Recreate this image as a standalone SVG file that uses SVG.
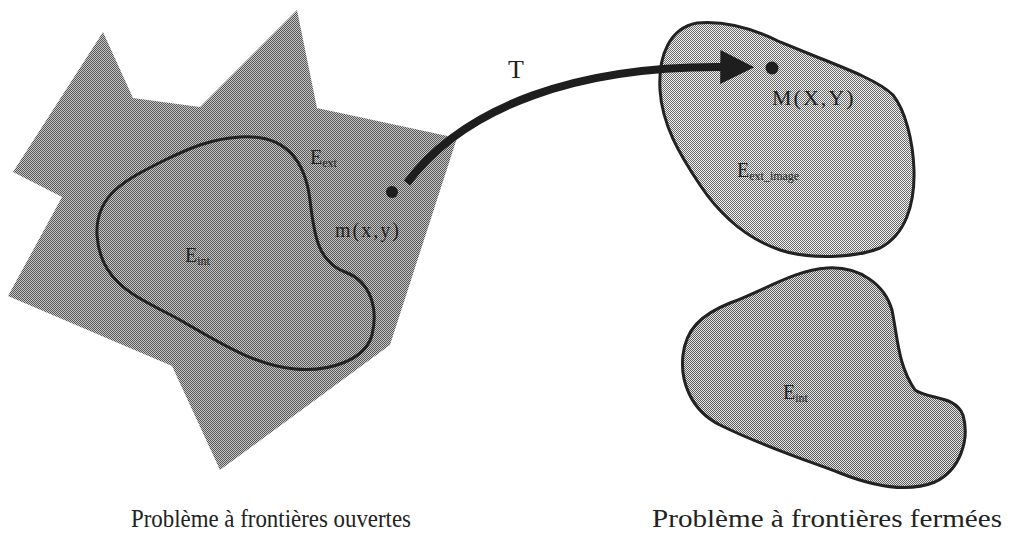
<svg xmlns="http://www.w3.org/2000/svg" width="1016" height="543" viewBox="0 0 1016 543">
<defs>
<pattern id="pDark" width="2" height="2" patternUnits="userSpaceOnUse"><rect width="2" height="2" fill="#c8c8c8"/><rect width="1" height="1" fill="#555"/><rect x="1" y="1" width="1" height="1" fill="#555"/></pattern>
<pattern id="pLight" width="2" height="2" patternUnits="userSpaceOnUse"><rect width="2" height="2" fill="#f2f2f2"/><rect width="1" height="1" fill="#6a6a6a"/><rect x="1" y="1" width="1" height="1" fill="#6a6a6a"/></pattern>
<pattern id="pMid" width="2" height="2" patternUnits="userSpaceOnUse"><rect width="2" height="2" fill="#e4e4e4"/><rect width="1" height="1" fill="#5e5e5e"/><rect x="1" y="1" width="1" height="1" fill="#5e5e5e"/></pattern>
<marker id="arrowHead" viewBox="0 0 10 10" refX="0.5" refY="5" markerUnits="userSpaceOnUse" markerWidth="44" markerHeight="34" orient="auto"><path d="M0,0 L10,5 L0,10 Z" fill="#1e1e1e"/></marker>
</defs>
<style>
.lbl{font-family:"Liberation Serif","Times New Roman",serif;fill:#222}
.sub{font-size:12px}
.outline{fill:none;stroke:#222;stroke-width:3;stroke-linejoin:round}
.dot{fill:#1e1e1e}
</style>

<g id="open-domain">
<polygon points="103,32 133,98 200,107 297,10 317,108 457,138 390,345 220,470 172,366 8,296 62,197 13,172" fill="url(#pDark)"/>
<path class="outline" d="M240,137 C285,134 305,160 310,200 C314,235 318,262 345,272 C372,282 378,310 372,335 C365,360 330,372 295,369 C255,366 215,340 180,320 C140,298 100,285 97,235 C95,195 125,180 165,160 C190,148 210,139 240,137 Z"/>
<text class="lbl" x="310" y="164" font-size="20">E<tspan class="sub" dy="3">ext</tspan></text>
<text class="lbl" x="185" y="262" font-size="20">E<tspan class="sub" dy="3">int</tspan></text>
<circle class="dot" cx="392" cy="192" r="6"/>
<text class="lbl" x="335" y="237" font-size="20" letter-spacing="2">m(x,y)</text>
</g>

<g id="ext-image">
<path d="M697,23 C730,20 760,32 780,42 L817,57 C850,70 880,82 893,95 C905,110 913,140 914,170 C915,205 905,235 880,248 C855,258 810,260 780,250 C745,238 720,215 700,185 C680,155 662,125 660,90 C658,55 670,28 697,23 Z" fill="url(#pLight)" stroke="#222" stroke-width="3"/>
<circle class="dot" cx="772" cy="68" r="6.5"/>
<text class="lbl" x="772" y="105" font-size="22" letter-spacing="2">M(X,Y)</text>
<text class="lbl" x="737" y="177" font-size="20">E<tspan class="sub" dy="3">ext_image</tspan></text>
</g>

<g id="closed-int">
<path d="M827,268 C860,266 885,285 892,310 C898,340 898,365 915,390 C930,400 955,395 963,415 C970,440 960,470 935,482 C905,494 870,485 840,473 C800,458 760,445 720,425 C690,410 680,380 683,355 C686,330 700,315 730,303 C765,290 795,270 827,268 Z" fill="url(#pMid)" stroke="#222" stroke-width="3"/>
<text class="lbl" x="783" y="399" font-size="20">E<tspan class="sub" dy="3">int</tspan></text>
</g>

<g id="connectors">
<path d="M407,183 C465,105 580,66 722,67" fill="none" stroke="#1e1e1e" stroke-width="8" marker-end="url(#arrowHead)"/>
<text class="lbl" x="508" y="78" font-size="26">T</text>
</g>

<g id="captions">
<text class="lbl" x="131" y="527" font-size="25" textLength="280" lengthAdjust="spacingAndGlyphs">Problème à frontières ouvertes</text>
<text class="lbl" x="652" y="527" font-size="25" textLength="350" lengthAdjust="spacingAndGlyphs">Problème à frontières fermées</text>
</g>
</svg>
